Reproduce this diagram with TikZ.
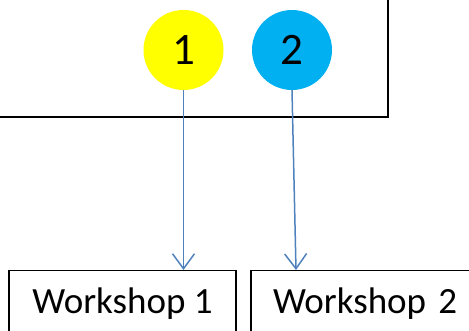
\documentclass[tikz,border=0pt]{standalone}
\usepackage{fontspec}
\setmainfont{Carlito}
\usetikzlibrary{arrows.meta}
\definecolor{cyellow}{HTML}{FFFF00}
\definecolor{cblue}{HTML}{00B0F0}
\definecolor{arrowblue}{HTML}{4F81BD}
\begin{document}
\begin{tikzpicture}[x=1pt,y=1pt,
  numcircle/.style={circle, minimum size=80pt, inner sep=0pt, font=\fontsize{45}{48}\selectfont},
  wsbox/.style={draw=black, line width=1.5pt, anchor=north, inner ysep=0pt, text height=43pt, text depth=40pt, font=\fontsize{37}{40}\selectfont},
  conn/.style={draw=arrowblue, line width=1.5pt, -{Straight Barb[length=15pt,width=22pt,line width=1.5pt]}}
]
\useasboundingbox (0,0) rectangle (469,331);
% outer frame (partly off-page)
\draw[black, line width=2pt] (-20,213.5) -- (387.5,213.5) -- (387.5,345);
\node[numcircle, fill=cyellow] (c1) at (183.5,281) {1};
\node[numcircle, fill=cblue] (c2) at (292,281) {2};
\node[wsbox, minimum width=227pt] (w1) at (122.5,61) {Workshop 1};
\node[wsbox, minimum width=230pt, text width=200pt, align=left] (w2) at (366,61) {\hspace*{7pt}Workshop 2};
\draw[conn] (c1.south) -- (w1.north -| c1.south);
\draw[conn] (c2.south) -- ([xshift=4pt]w2.north -| c2.south);
\end{tikzpicture}
\end{document}
